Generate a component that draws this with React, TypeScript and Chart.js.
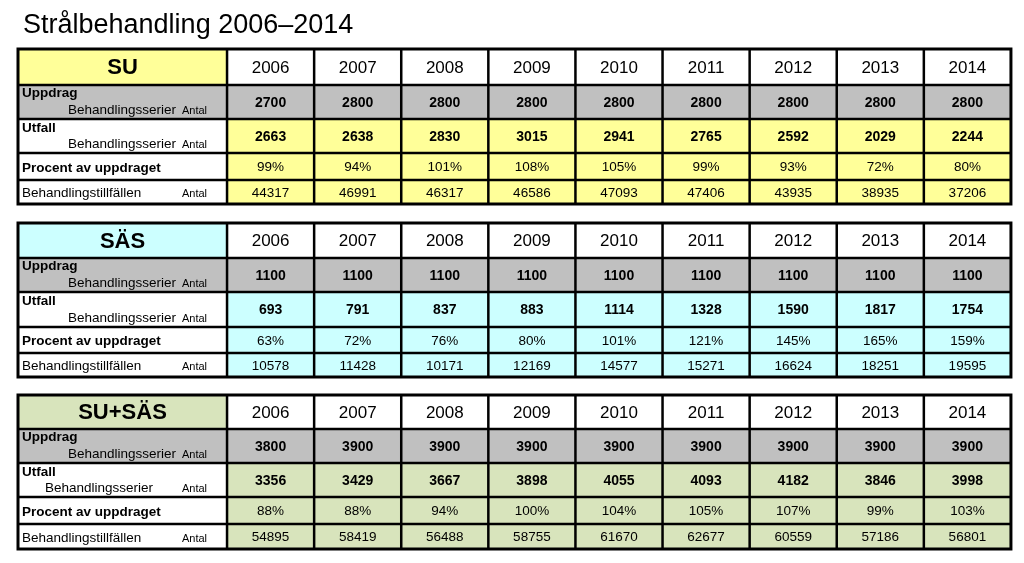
import React, { useEffect, useRef } from "react";
import { Chart, registerables } from "chart.js";

Chart.register(...registerables);

// ---------- DATA ----------
const chartTitle = "Strålbehandling 2006–2014";
const years = [2006, 2007, 2008, 2009, 2010, 2011, 2012, 2013, 2014];

const suUppdrag = [2700, 2800, 2800, 2800, 2800, 2800, 2800, 2800, 2800];
const suUtfall = [2663, 2638, 2830, 3015, 2941, 2765, 2592, 2029, 2244];
const suProcent = [99, 94, 101, 108, 105, 99, 93, 72, 80];
const suTillfallen = [44317, 46991, 46317, 46586, 47093, 47406, 43935, 38935, 37206];

const sasUppdrag = [1100, 1100, 1100, 1100, 1100, 1100, 1100, 1100, 1100];
const sasUtfall = [693, 791, 837, 883, 1114, 1328, 1590, 1817, 1754];
const sasProcent = [63, 72, 76, 80, 101, 121, 145, 165, 159];
const sasTillfallen = [10578, 11428, 10171, 12169, 14577, 15271, 16624, 18251, 19595];

const totUppdrag = [3800, 3900, 3900, 3900, 3900, 3900, 3900, 3900, 3900];
const totUtfall = [3356, 3429, 3667, 3898, 4055, 4093, 4182, 3846, 3998];
const totProcent = [88, 88, 94, 100, 104, 105, 107, 99, 103];
const totTillfallen = [54895, 58419, 56488, 58755, 61670, 62677, 60559, 57186, 56801];

const tableNames = ["SU", "SÄS", "SU+SÄS"];

// ---------- LAYOUT / STYLE ----------
const FONT = "Arial, 'Liberation Sans', sans-serif";
const COL_W = 87.1;
const LABEL_COLS = 2.4;
const X_MIN = -LABEL_COLS - 18 / COL_W;
const X_MAX = X_MIN + 1024 / COL_W;

const tableColors = ["#FFFF99", "#CCFFFF", "#D8E4BC"];
const GRAY = "#C0C0C0";
const tableRows = [
  [49, 85, 119, 153, 180, 204],
  [223, 258, 292, 327, 353, 377],
  [395, 429, 463, 497, 524, 549],
];

const tables = [
  { name: tableNames[0], color: tableColors[0], rows: tableRows[0], uppdrag: suUppdrag, utfall: suUtfall, procent: suProcent, tillfallen: suTillfallen, utfallIndent: false },
  { name: tableNames[1], color: tableColors[1], rows: tableRows[1], uppdrag: sasUppdrag, utfall: sasUtfall, procent: sasProcent, tillfallen: sasTillfallen, utfallIndent: false },
  { name: tableNames[2], color: tableColors[2], rows: tableRows[2], uppdrag: totUppdrag, utfall: totUtfall, procent: totProcent, tillfallen: totTillfallen, utfallIndent: true },
];

const tablePlugin = {
  id: "tablePlugin",
  afterDraw(chart: any) {
    const ctx: CanvasRenderingContext2D = chart.ctx;
    const xs = chart.scales.x;
    const ys = chart.scales.y;
    const X = (v: number) => xs.getPixelForValue(v);
    const Y = (v: number) => ys.getPixelForValue(v);
    ctx.save();

    // Title
    ctx.fillStyle = "#000";
    ctx.font = `27px ${FONT}`;
    ctx.textAlign = "left";
    ctx.textBaseline = "alphabetic";
    ctx.fillText(chartTitle, X(-LABEL_COLS) + 5, Y(33));

    const left = X(-LABEL_COLS);
    const labelRight = X(0);
    const right = X(years.length);

    tables.forEach((t) => {
      const r = t.rows.map((v) => Y(v));
      // fills
      const fill = (x0: number, y0: number, x1: number, y1: number, c: string) => {
        ctx.fillStyle = c;
        ctx.fillRect(x0, y0, x1 - x0, y1 - y0);
      };
      fill(left, r[0], labelRight, r[1], t.color);
      fill(labelRight, r[0], right, r[1], "#FFFFFF");
      fill(left, r[1], right, r[2], GRAY);
      fill(left, r[2], labelRight, r[5], "#FFFFFF");
      fill(labelRight, r[2], right, r[5], t.color);

      ctx.fillStyle = "#000";
      // header label
      ctx.textAlign = "center";
      ctx.textBaseline = "middle";
      ctx.font = `bold 22px ${FONT}`;
      ctx.fillText(t.name, (left + labelRight) / 2, (r[0] + r[1]) / 2 + 1);

      // years
      ctx.font = `17px ${FONT}`;
      years.forEach((yr, i) => {
        ctx.fillText(String(yr), X(i + 0.5), (r[0] + r[1]) / 2 + 1);
      });

      // data rows
      const rowVals = [
        { vals: t.uppdrag, bold: true, fmt: (v: number) => String(v) },
        { vals: t.utfall, bold: true, fmt: (v: number) => String(v) },
        { vals: t.procent, bold: false, fmt: (v: number) => `${v}%` },
        { vals: t.tillfallen, bold: false, fmt: (v: number) => String(v) },
      ];
      rowVals.forEach((rv, k) => {
        ctx.font = `${rv.bold ? "bold 14px" : "13.5px"} ${FONT}`;
        const cy = (r[k + 1] + r[k + 2]) / 2 + 1;
        rv.vals.forEach((v, i) => {
          ctx.fillText(rv.fmt(v), X(i + 0.5), cy);
        });
      });

      // row labels
      ctx.textBaseline = "alphabetic";
      ctx.textAlign = "left";
      // Uppdrag
      ctx.font = `bold 13.5px ${FONT}`;
      ctx.fillText("Uppdrag", left + 4, r[1] + 12);
      ctx.font = `13.5px ${FONT}`;
      ctx.fillText("Behandlingsserier", left + 50, r[2] - 5);
      // Utfall
      ctx.font = `bold 13.5px ${FONT}`;
      ctx.fillText("Utfall", left + 4, r[2] + 13);
      ctx.font = `13.5px ${FONT}`;
      ctx.fillText("Behandlingsserier", left + (t.utfallIndent ? 27 : 50), r[3] - 5);
      // Procent
      ctx.font = `bold 13.5px ${FONT}`;
      ctx.fillText("Procent av uppdraget", left + 4, (r[3] + r[4]) / 2 + 5);
      // Tillfällen
      ctx.font = `13.5px ${FONT}`;
      ctx.fillText("Behandlingstillfällen", left + 4, (r[4] + r[5]) / 2 + 5);
      // Antal
      ctx.textAlign = "right";
      ctx.font = `11px ${FONT}`;
      ctx.fillText("Antal", labelRight - 20, r[2] - 5);
      ctx.fillText("Antal", labelRight - 20, r[3] - 5);
      ctx.fillText("Antal", labelRight - 20, (r[4] + r[5]) / 2 + 5);

      // grid lines
      ctx.strokeStyle = "#000";
      ctx.lineWidth = 2.5;
      ctx.beginPath();
      for (let k = 1; k < r.length - 1; k++) {
        ctx.moveTo(left, r[k]);
        ctx.lineTo(right, r[k]);
      }
      for (let i = 0; i < years.length; i++) {
        const x = X(i);
        ctx.moveTo(x, r[0]);
        ctx.lineTo(x, r[5]);
      }
      ctx.stroke();
      ctx.lineWidth = 3;
      ctx.strokeRect(left, r[0], right - left, r[5] - r[0]);
    });

    ctx.restore();
  },
};

export default function App() {
  const ref = useRef<HTMLCanvasElement | null>(null);
  useEffect(() => {
    document.body.style.margin = "0";
    const canvas = ref.current;
    if (!canvas) return;
    const chart = new Chart(canvas, {
      type: "scatter",
      data: { datasets: [] },
      options: {
        responsive: false,
        maintainAspectRatio: false,
        animation: false,
        layout: { padding: 0 },
        plugins: { legend: { display: false }, tooltip: { enabled: false }, title: { display: false } },
        scales: {
          x: { type: "linear", display: false, min: X_MIN, max: X_MAX },
          y: { type: "linear", display: false, min: 0, max: 563, reverse: true },
        },
      },
      plugins: [tablePlugin],
    });
    return () => chart.destroy();
  }, []);
  return (
    <div style={{ width: 1024, height: 563, background: "#fff" }}>
      <canvas ref={ref} width={1024} height={563} style={{ display: "block" }} />
    </div>
  );
}
